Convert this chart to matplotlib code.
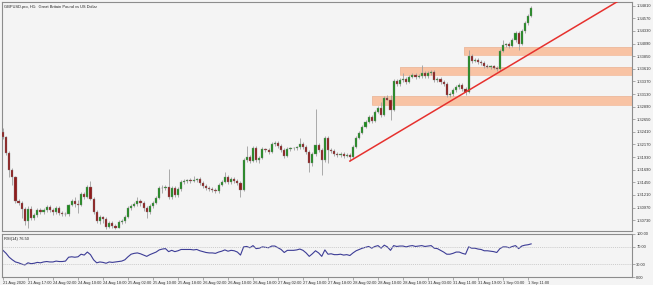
import matplotlib
matplotlib.use("Agg")
import matplotlib.pyplot as plt
from matplotlib.patches import Rectangle

# GBPUSD H1, 21 Aug 2020 -> 1 Sep 2020
first_open = 1.32406
closes = [
    1.32311, 1.32006, 1.31682, 1.31549, 1.31092, 1.31054, 1.30940, 1.30711, 1.30940, 1.30768,
    1.30825, 1.30921, 1.30883, 1.30921, 1.30978, 1.30921, 1.30883, 1.30959, 1.30863, 1.30844,
    1.30840, 1.31016, 1.31092, 1.31035, 1.31016, 1.31225, 1.31168, 1.31359, 1.31130, 1.30883,
    1.30711, 1.30787, 1.30749, 1.30597, 1.30673, 1.30616, 1.30590, 1.30692, 1.30711, 1.30787,
    1.30959, 1.30997, 1.31035, 1.31092, 1.31054, 1.30959, 1.30883, 1.30997, 1.31054, 1.31149,
    1.31339, 1.31345, 1.31359, 1.31168, 1.31339, 1.31206, 1.31320, 1.31454, 1.31473, 1.31492,
    1.31473, 1.31495, 1.31511, 1.31435, 1.31378, 1.31339, 1.31320, 1.31301, 1.31282, 1.31397,
    1.31454, 1.31549, 1.31454, 1.31511, 1.31473, 1.31435, 1.31301, 1.31873, 1.31930, 1.31854,
    1.32101, 1.31873, 1.31911, 1.32082, 1.32063, 1.32025, 1.32177, 1.32196, 1.32139, 1.32063,
    1.31949, 1.32082, 1.32101, 1.32095, 1.32120, 1.32177, 1.32120, 1.32025, 1.31815, 1.31987,
    1.32158, 1.32063, 1.31873, 1.32291, 1.32063, 1.32044, 1.31987, 1.31968, 1.31987, 1.31949,
    1.31968, 1.31930, 1.32120, 1.32291, 1.32387, 1.32501, 1.32596, 1.32691, 1.32615, 1.32787,
    1.32863, 1.32729, 1.33053, 1.33015, 1.32825, 1.33377, 1.33320, 1.33396, 1.33415, 1.33358,
    1.33453, 1.33491, 1.33453, 1.33472, 1.33529, 1.33472, 1.33529, 1.33548, 1.33396, 1.33415,
    1.33358, 1.33320, 1.33110, 1.33129, 1.33205, 1.33263, 1.33301, 1.33224, 1.33167, 1.33853,
    1.33758, 1.33777, 1.33739, 1.33719, 1.33662, 1.33643, 1.33662, 1.33624, 1.33605, 1.33948,
    1.34062, 1.34081, 1.34043, 1.34157, 1.34291, 1.34081, 1.34329, 1.34481, 1.34614, 1.34767,
]
highs = [
    1.32482, 1.32330, 1.32044, 1.31720, 1.31568, 1.31130, 1.31092, 1.30978, 1.30997, 1.30997,
    1.30863, 1.30959, 1.30959, 1.30959, 1.31016, 1.31016, 1.30959, 1.30997, 1.30997, 1.30902,
    1.30883, 1.31035, 1.31130, 1.31168, 1.31111, 1.31263, 1.31263, 1.31397, 1.31473, 1.31168,
    1.30921, 1.30825, 1.30806, 1.30787, 1.30711, 1.30711, 1.30654, 1.30730, 1.30749, 1.30825,
    1.30997, 1.31035, 1.31073, 1.31168, 1.31130, 1.31092, 1.30997, 1.31035, 1.31092, 1.31187,
    1.31378, 1.31397, 1.31397, 1.31701, 1.31378, 1.31378, 1.31359, 1.31492, 1.31511, 1.31511,
    1.31530, 1.31568, 1.31530, 1.31549, 1.31473, 1.31416, 1.31378, 1.31359, 1.31339, 1.31435,
    1.31492, 1.31644, 1.31587, 1.31549, 1.31549, 1.31511, 1.31473, 1.31911, 1.32139, 1.31968,
    1.32139, 1.32139, 1.31949, 1.32120, 1.32101, 1.32101, 1.32215, 1.32234, 1.32234, 1.32177,
    1.32101, 1.32120, 1.32120, 1.32120, 1.32139, 1.32291, 1.32215, 1.32158, 1.32063, 1.32025,
    1.32844, 1.32196, 1.32101, 1.32330, 1.32330, 1.32101, 1.32082, 1.32025, 1.32025, 1.32025,
    1.32006, 1.32006, 1.32158, 1.32330, 1.32425, 1.32539, 1.32634, 1.32729, 1.32729, 1.32825,
    1.32901, 1.32977, 1.33091, 1.33110, 1.33110, 1.33415, 1.33415, 1.33434, 1.33529, 1.33453,
    1.33491, 1.33529, 1.33529, 1.33510, 1.33681, 1.33567, 1.33567, 1.33586, 1.33586, 1.33453,
    1.33453, 1.33396, 1.33358, 1.33167, 1.33243, 1.33301, 1.33339, 1.33339, 1.33263, 1.33967,
    1.33891, 1.33815, 1.33815, 1.33777, 1.33758, 1.33700, 1.33681, 1.33681, 1.33662, 1.33986,
    1.34157, 1.34100, 1.34119, 1.34195, 1.34329, 1.34329, 1.34367, 1.34519, 1.34652, 1.34805,
]
lows = [
    1.32272, 1.31968, 1.31549, 1.31397, 1.31054, 1.31016, 1.30768, 1.30635, 1.30578, 1.30730,
    1.30730, 1.30787, 1.30844, 1.30844, 1.30883, 1.30883, 1.30825, 1.30844, 1.30825, 1.30806,
    1.30806, 1.30806, 1.30997, 1.30978, 1.30863, 1.30997, 1.31130, 1.31149, 1.31111, 1.30844,
    1.30673, 1.30654, 1.30673, 1.30559, 1.30578, 1.30578, 1.30559, 1.30578, 1.30654, 1.30673,
    1.30768, 1.30921, 1.30978, 1.30997, 1.30997, 1.30902, 1.30768, 1.30844, 1.30959, 1.31035,
    1.31130, 1.31244, 1.31301, 1.31130, 1.31130, 1.31168, 1.31168, 1.31282, 1.31416, 1.31435,
    1.31435, 1.31454, 1.31454, 1.31397, 1.31339, 1.31301, 1.31282, 1.31263, 1.31244, 1.31244,
    1.31378, 1.31435, 1.31416, 1.31416, 1.31435, 1.31397, 1.31168, 1.31282, 1.31835, 1.31815,
    1.31835, 1.31835, 1.31815, 1.31892, 1.32025, 1.31987, 1.32006, 1.32139, 1.32101, 1.32025,
    1.31911, 1.31930, 1.32044, 1.32063, 1.32063, 1.32082, 1.32082, 1.31987, 1.31644, 1.31758,
    1.31949, 1.32025, 1.31587, 1.31835, 1.31815, 1.32006, 1.31949, 1.31930, 1.31930, 1.31911,
    1.31930, 1.31854, 1.31911, 1.32101, 1.32272, 1.32368, 1.32482, 1.32577, 1.32577, 1.32596,
    1.32767, 1.32691, 1.32710, 1.33015, 1.32634, 1.32806, 1.33282, 1.33282, 1.33358, 1.33320,
    1.33339, 1.33434, 1.33415, 1.33434, 1.33434, 1.33434, 1.33434, 1.33491, 1.33358, 1.33358,
    1.33320, 1.33282, 1.33072, 1.33072, 1.33091, 1.33167, 1.33224, 1.33186, 1.33110, 1.33148,
    1.33719, 1.33739, 1.33700, 1.33681, 1.33624, 1.33624, 1.33605, 1.33605, 1.33567, 1.33567,
    1.33929, 1.34024, 1.34005, 1.34024, 1.34119, 1.33967, 1.34062, 1.34291, 1.34443, 1.34595,
]
rsi = [
    62, 55, 46, 40, 35, 33, 30, 28, 33, 31, 32, 34, 33, 35, 36, 35, 35, 37, 36, 36,
    37, 46, 47, 46, 47, 53, 51, 58, 52, 40, 33, 35, 34, 32, 35, 34, 35, 36, 37, 40,
    47, 53, 55, 56, 54, 51, 48, 52, 55, 58, 63, 65, 66, 59, 62, 59, 61, 64, 64, 64,
    64, 63, 64, 61, 59, 57, 56, 56, 55, 58, 60, 63, 60, 62, 61, 58, 51, 70, 71, 68,
    73, 66, 67, 70, 69, 68, 72, 72, 68, 64, 57, 62, 62, 62, 63, 65, 62, 56, 48, 54,
    61, 56, 48, 63, 53, 54, 52, 52, 53, 51, 52, 50, 56, 61, 64, 67, 69, 71, 67, 71,
    73, 67, 74, 70, 62, 73, 71, 72, 72, 70, 72, 73, 71, 72, 73, 71, 72, 73, 67, 66,
    62, 58, 53, 53, 55, 58, 58, 55, 53, 70, 67, 67, 65, 64, 61, 61, 60, 59, 57, 66,
    70, 70, 68, 71, 73, 66, 72, 74, 75, 77,
]

# horizontal supply/demand zones: (first bar, low, high)
zones = [(147.5, 1.33872, 1.34024), (127.0, 1.33491, 1.33643), (118.0, 1.32920, 1.33091)]
# trend line anchors (bar, price)
trend_bars = [111, 191]
trend_prices = [1.31854, 1.34690]

price_ticks = [1.34810, 1.34570, 1.34330, 1.34090, 1.33850, 1.33610, 1.33370, 1.33130, 1.32890,
               1.32650, 1.32410, 1.32170, 1.31930, 1.31690, 1.31450, 1.31210, 1.30970, 1.30730]
time_ticks = [0, 8, 16, 24, 32, 40, 48, 56, 64, 72, 80, 88, 96, 104, 112, 120, 128, 136, 144, 152, 160, 168]
time_labels = ['21 Aug 2020', '21 Aug 17:00', '24 Aug 02:00', '24 Aug 10:00', '24 Aug 18:00',
               '25 Aug 02:00', '25 Aug 10:00', '25 Aug 18:00', '26 Aug 02:00', '26 Aug 10:00',
               '26 Aug 18:00', '27 Aug 02:00', '27 Aug 10:00', '27 Aug 18:00', '28 Aug 02:00',
               '28 Aug 10:00', '28 Aug 18:00', '31 Aug 03:00', '31 Aug 11:00', '31 Aug 19:00',
               '1 Sep 03:00', '1 Sep 11:00']
rsi_ticks = [100, 70, 30, 0]

plt.rcParams['font.family'] = ['Liberation Sans', 'DejaVu Sans']

bg = '#f4f4f4'
frame = '#8c8c8c'
up_col = '#1d8a1d'
dn_col = '#8e1b1b'
fs = 2.9
txt = '#333333'

fig = plt.figure(figsize=(6.53, 2.85), dpi=100, facecolor=bg)
ax = fig.add_axes([0.003, 0.189, 0.965, 0.804], facecolor=bg)
ax2 = fig.add_axes([0.003, 0.028, 0.965, 0.151], facecolor=bg)

opens = [first_open] + closes[:-1]
n = len(closes)
xs = list(range(n))

# zones
xmax = 201.3
for x0, lo, hi in zones:
    ax.add_patch(Rectangle((x0, lo - 0.00004), xmax - x0, hi - lo, facecolor='#d9d0cb',
                           edgecolor='none', zorder=1))
    ax.add_patch(Rectangle((x0, lo), xmax - x0, hi - lo, facecolor='#f8c3a4',
                           edgecolor='#f2b592', lw=0.4, zorder=1.1))

# candles
ax.vlines(xs, lows, highs, color='#9d9d9d', lw=0.6, zorder=2)
for i in xs:
    o, c = opens[i], closes[i]
    col = up_col if c >= o else dn_col
    h = abs(c - o)
    if h < 0.00003:
        ax.hlines(o, i - 0.35, i + 0.35, color='#9d9d9d', lw=0.6, zorder=3)
    else:
        ax.bar(i, h, bottom=min(o, c), width=0.7, color=col, edgecolor='#8a8a8a',
               lw=0.25, zorder=3)

# trend line, extended to the right edge
slope = (trend_prices[1] - trend_prices[0]) / (trend_bars[1] - trend_bars[0])
ax.plot([trend_bars[0], xmax], [trend_prices[0], trend_prices[0] + slope * (xmax - trend_bars[0])],
        color='#e6312e', lw=1.1, zorder=4)

ax.set_xlim(-0.32, xmax)
ax.set_ylim(1.30521, 1.34881)
ax.yaxis.tick_right()
ax.set_yticks(price_ticks)
ax.set_yticklabels(['%.5f' % p for p in price_ticks])
ax.tick_params(axis='y', labelsize=fs, length=2, width=0.5, color=frame, pad=1, labelcolor=txt)
ax.set_xticks([])
for s in ax.spines.values():
    s.set_color(frame)
    s.set_linewidth(0.8)
ax.text(0.004, 0.985, 'GBPUSD.pro, H1:  Great Britain Pound vs US Dollar', transform=ax.transAxes,
        fontsize=fs, va='top', ha='left', color='#222222')

# RSI panel
ax2.plot(xs, rsi, color='#3c3c96', lw=0.8)
for lv in (70, 30):
    ax2.axhline(lv, color='#bdbdbd', lw=0.5, ls=(0, (1.5, 1.5)))
ax2.set_xlim(-0.32, xmax)
ax2.set_ylim(0, 100)
ax2.yaxis.tick_right()
ax2.set_yticks(rsi_ticks)
ax2.set_yticklabels(['%.2f' % v for v in rsi_ticks])
ax2.tick_params(axis='y', labelsize=fs, length=2, width=0.5, color=frame, pad=1, labelcolor=txt)
ax2.set_xticks(time_ticks)
ax2.set_xticklabels(time_labels, ha='left')
ax2.tick_params(axis='x', labelsize=fs, length=2, width=0.5, color=frame, pad=1, labelcolor=txt)
for s in ax2.spines.values():
    s.set_color(frame)
    s.set_linewidth(0.8)
ax2.text(0.004, 0.93, 'RSI(14) 76.50', transform=ax2.transAxes, fontsize=fs, va='top',
         ha='left', color='#222222')

fig.savefig('out.png', dpi=100, facecolor=bg)
